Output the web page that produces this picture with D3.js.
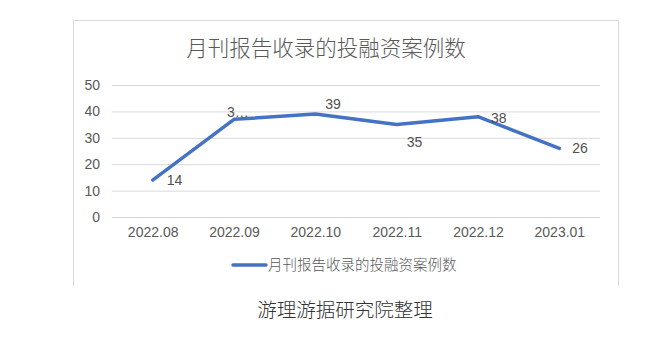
<!DOCTYPE html>
<html>
<head>
<meta charset="utf-8">
<script src="https://cdn.jsdelivr.net/npm/d3@7"></script>
<style>
  body { margin: 0; background: #fff; }
  svg { display: block; font-family: "Noto Sans CJK SC", "Liberation Sans", sans-serif; }
</style>
</head>
<body>
<div id="chart"></div>
<script>
// data
const months = ["2022.08", "2022.09", "2022.10", "2022.11", "2022.12", "2023.01"];
const counts = [14, 37, 39, 35, 38, 26];
const labelText = ["14", "3…", "39", "35", "38", "26"];
const yTicks = [0, 10, 20, 30, 40, 50];
const seriesName = "月刊报告收录的投融资案例数";
const chartTitle = "月刊报告收录的投融资案例数";
const footer = "游理游据研究院整理";

// label placement relative to point: [dx, dy, anchor]
const labelPos = [
  [14, 0, "start"],
  [-7, -7, "start"],
  [10, -10, "start"],
  [10, 17, "start"],
  [13, 1, "start"],
  [13, 0, "start"]
];

const width = 663, height = 357;
const margin = { top: 85, left: 112, right: 63, bottom: 140 };
const innerW = width - margin.left - margin.right;
const innerH = height - margin.top - margin.bottom;

const svg = d3.select("#chart").append("svg")
  .attr("width", width)
  .attr("height", height);

// chart frame (bottom edge is cut off)
svg.append("path")
  .attr("d", "M73.5,286 V20.5 H618.5 V286")
  .attr("fill", "none")
  .attr("stroke", "#d9d9d9")
  .attr("stroke-width", 1);

svg.append("text")
  .attr("x", 326)
  .attr("y", 56)
  .attr("text-anchor", "middle")
  .attr("font-size", 21.5)
  .attr("font-weight", 300)
  .attr("fill", "#595959")
  .text(chartTitle);

let x = d3.scalePoint().domain(months).range([0, innerW]).padding(0.5);
let y = d3.scaleLinear().domain([0, 50]).range([innerH, 0]);

let g = svg.append("g").attr("transform", `translate(${margin.left},${margin.top})`);

// gridlines
g.append("g")
  .selectAll("line")
  .data(yTicks)
  .join("line")
  .attr("x1", 0).attr("x2", innerW)
  .attr("y1", d => y(d) + 0.5).attr("y2", d => y(d) + 0.5)
  .attr("stroke", "#d9d9d9");

let yAxis = d3.axisLeft(y).tickValues(yTicks).tickSize(0).tickPadding(12);
g.append("g").attr("class", "y-axis").call(yAxis)
  .call(s => s.select(".domain").remove())
  .selectAll("text")
  .attr("font-size", 14)
  .attr("fill", "#595959")
  .attr("font-family", "Liberation Sans, sans-serif");

let xAxis = d3.axisBottom(x).tickSize(0).tickPadding(10);
g.append("g").attr("class", "x-axis")
  .attr("transform", `translate(0,${innerH})`)
  .call(xAxis)
  .call(s => s.select(".domain").remove())
  .selectAll("text")
  .attr("font-size", 14)
  .attr("fill", "#595959")
  .attr("font-family", "Liberation Sans, sans-serif");

const lineColor = "#4472c4";
let line = d3.line()
  .x((d, i) => x(months[i]))
  .y(d => y(d));

g.append("path")
  .datum(counts)
  .attr("d", line)
  .attr("fill", "none")
  .attr("stroke", lineColor)
  .attr("stroke-width", 3.5)
  .attr("stroke-linecap", "round")
  .attr("stroke-linejoin", "round");

g.append("g")
  .selectAll("text")
  .data(counts)
  .join("text")
  .attr("x", (d, i) => x(months[i]) + labelPos[i][0])
  .attr("y", (d, i) => y(d) + labelPos[i][1])
  .attr("dy", "0.35em")
  .attr("text-anchor", (d, i) => labelPos[i][2])
  .attr("font-size", 14)
  .attr("fill", "#505050")
  .attr("font-family", "Liberation Sans, sans-serif")
  .text((d, i) => labelText[i]);

// legend
let legend = svg.append("g").attr("transform", "translate(232,265)");
legend.append("line")
  .attr("x1", 1).attr("x2", 34)
  .attr("y1", 0).attr("y2", 0)
  .attr("stroke", lineColor)
  .attr("stroke-width", 3.5)
  .attr("stroke-linecap", "round");
legend.append("text")
  .attr("x", 36)
  .attr("y", 0)
  .attr("dy", "0.36em")
  .attr("font-size", 14.5)
  .attr("font-weight", 300)
  .attr("fill", "#595959")
  .text(seriesName);

svg.append("text")
  .attr("x", 345)
  .attr("y", 317)
  .attr("text-anchor", "middle")
  .attr("font-size", 19.5)
  .attr("font-weight", 300)
  .attr("fill", "#333")
  .text(footer);
</script>
</body>
</html>
